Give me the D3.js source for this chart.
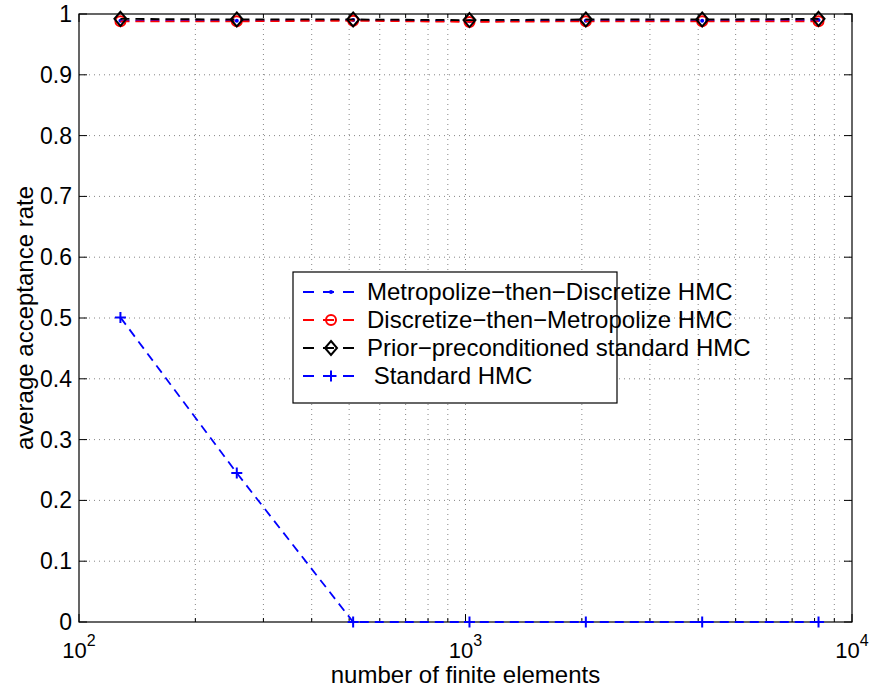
<!DOCTYPE html>
<html>
<head>
<meta charset="utf-8">
<script src="https://cdn.jsdelivr.net/npm/d3@7"></script>
<style>
  body { margin: 0; background: #fff; }
  svg text { font-family: "Liberation Sans", Arial, Helvetica, sans-serif; fill: #000; }
</style>
</head>
<body>
<div id="chart"></div>
<script>
// number of finite elements
const Elements = [128, 256, 512, 1024, 2048, 4096, 8192];

const MetropolizeThenDiscretize = [0.989, 0.989, 0.990, 0.988, 0.989, 0.989, 0.990];
const DiscretizeThenMetropolize = [0.988, 0.988, 0.989, 0.987, 0.988, 0.988, 0.988];
const PriorPreconditioned       = [0.992, 0.991, 0.991, 0.990, 0.991, 0.991, 0.992];
const StandardHMC               = [0.501, 0.245, 0, 0, 0, 0, 0];

const YTicks = [0, 0.1, 0.2, 0.3, 0.4, 0.5, 0.6, 0.7, 0.8, 0.9, 1];
const XMajor = [100, 1000, 10000];
const XMinor = [200, 300, 400, 500, 600, 700, 800, 900,
                2000, 3000, 4000, 5000, 6000, 7000, 8000, 9000];

const LegendLabels = [
    "Metropolize\u2212then\u2212Discretize HMC",
    "Discretize\u2212then\u2212Metropolize HMC",
    "Prior\u2212preconditioned standard HMC",
    " Standard HMC",
];

const width = 870;
const height = 690;
const plotLeft = 79, plotRight = 852, plotTop = 14, plotBottom = 622;

const svg = d3.select("#chart").append("svg")
    .attr("width", width)
    .attr("height", height);

const x = d3.scaleLog().domain([100, 10000]).range([plotLeft, plotRight]);
const y = d3.scaleLinear().domain([0, 1]).range([plotBottom, plotTop]);

// grid
const grid = svg.append("g")
    .attr("stroke", "#666")
    .attr("stroke-width", 0.8)
    .attr("stroke-dasharray", "1,4");

grid.selectAll(".gx")
    .data(XMinor.concat([1000]))
    .enter().append("line")
        .attr("x1", d => x(d)).attr("x2", d => x(d))
        .attr("y1", plotTop).attr("y2", plotBottom);

grid.selectAll(".gy")
    .data(YTicks.slice(1, -1))
    .enter().append("line")
        .attr("x1", plotLeft).attr("x2", plotRight)
        .attr("y1", d => y(d)).attr("y2", d => y(d));

// ticks (inward, on all four sides)
const ticks = svg.append("g").attr("stroke", "#000").attr("stroke-width", 1);

function xTick(v, len) {
    ticks.append("line").attr("x1", x(v)).attr("x2", x(v)).attr("y1", plotBottom).attr("y2", plotBottom - len);
    ticks.append("line").attr("x1", x(v)).attr("x2", x(v)).attr("y1", plotTop).attr("y2", plotTop + len);
}
XMajor.forEach(v => xTick(v, 8));
XMinor.forEach(v => xTick(v, 4));

YTicks.forEach(v => {
    ticks.append("line").attr("x1", plotLeft).attr("x2", plotLeft + 8).attr("y1", y(v)).attr("y2", y(v));
    ticks.append("line").attr("x1", plotRight).attr("x2", plotRight - 8).attr("y1", y(v)).attr("y2", y(v));
});

// axis box
svg.append("rect")
    .attr("x", plotLeft).attr("y", plotTop)
    .attr("width", plotRight - plotLeft).attr("height", plotBottom - plotTop)
    .attr("fill", "none")
    .attr("stroke", "#000")
    .attr("stroke-width", 1.2);

// y tick labels
svg.append("g").selectAll("text")
    .data(YTicks)
    .enter().append("text")
        .attr("x", plotLeft - 7)
        .attr("y", d => y(d) + 8)
        .attr("text-anchor", "end")
        .attr("font-size", 23)
        .text(d => d);

// x tick labels 10^n
const xLabels = svg.append("g").selectAll("text")
    .data(XMajor)
    .enter().append("text")
        .attr("x", d => x(d))
        .attr("y", 658)
        .attr("text-anchor", "middle")
        .attr("font-size", 22);
xLabels.append("tspan").text("10");
xLabels.append("tspan")
    .attr("dy", -12)
    .attr("font-size", 16)
    .text(d => Math.round(Math.log10(d)));

// axis titles
svg.append("text")
    .attr("x", (plotLeft + plotRight) / 2)
    .attr("y", 683)
    .attr("text-anchor", "middle")
    .attr("font-size", 24)
    .text("number of finite elements");

svg.append("text")
    .attr("transform", `translate(33,${(plotTop + plotBottom) / 2}) rotate(-90)`)
    .attr("text-anchor", "middle")
    .attr("font-size", 24)
    .text("average acceptance rate");

// series
const series = [
    { values: MetropolizeThenDiscretize, color: "#0000ff", marker: "dot" },
    { values: DiscretizeThenMetropolize, color: "#ff0000", marker: "circle" },
    { values: PriorPreconditioned,       color: "#000000", marker: "diamond" },
    { values: StandardHMC,               color: "#0000ff", marker: "plus" },
];

const line = d3.line().x(d => x(d[0])).y(d => y(d[1]));

function drawMarker(g, kind, color, cx, cy) {
    if (kind === "dot") {
        g.append("circle").attr("cx", cx).attr("cy", cy).attr("r", 2).attr("fill", color);
    } else if (kind === "circle") {
        g.append("circle").attr("cx", cx).attr("cy", cy).attr("r", 5)
            .attr("fill", "none").attr("stroke", color).attr("stroke-width", 2);
    } else if (kind === "diamond") {
        g.append("path")
            .attr("d", `M${cx},${cy - 7}L${cx + 6},${cy}L${cx},${cy + 7}L${cx - 6},${cy}Z`)
            .attr("fill", "none").attr("stroke", color).attr("stroke-width", 2);
    } else if (kind === "plus") {
        g.append("path")
            .attr("d", `M${cx - 5.5},${cy}H${cx + 5.5}M${cx},${cy - 5.5}V${cy + 5.5}`)
            .attr("fill", "none").attr("stroke", color).attr("stroke-width", 2);
    }
}

const plot = svg.append("g");
series.forEach(s => {
    const pts = Elements.map((e, i) => [e, s.values[i]]);
    plot.append("path")
        .datum(pts)
        .attr("d", line)
        .attr("fill", "none")
        .attr("stroke", s.color)
        .attr("stroke-width", 1.8)
        .attr("stroke-dasharray", "9,6");
    pts.forEach(p => drawMarker(plot, s.marker, s.color, x(p[0]), y(p[1])));
});

// legend (the box is narrower than its text, as in the original export)
const legend = svg.append("g");
const lgX = 293, lgY = 272, lgW = 324, lgH = 131;
legend.append("rect")
    .attr("x", lgX).attr("y", lgY)
    .attr("width", lgW).attr("height", lgH)
    .attr("fill", "#fff")
    .attr("stroke", "#000")
    .attr("stroke-width", 1.2);

const rowY = d3.scalePoint().domain(d3.range(4)).range([292, 376]);

series.forEach((s, i) => {
    const cy = rowY(i);
    legend.append("line")
        .attr("x1", 303).attr("x2", 357)
        .attr("y1", cy).attr("y2", cy)
        .attr("stroke", s.color)
        .attr("stroke-width", 1.8)
        .attr("stroke-dasharray", "11,9");
    drawMarker(legend, s.marker, s.color, 331, cy);
    legend.append("text")
        .attr("x", 367)
        .attr("y", cy + 8)
        .attr("font-size", 24)
        .style("white-space", "pre")
        .text(LegendLabels[i]);
});
</script>
</body>
</html>
